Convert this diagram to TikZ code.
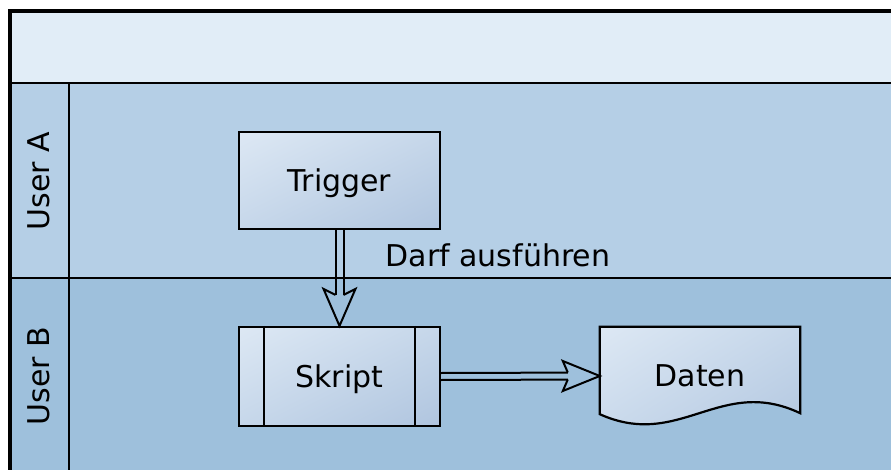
\documentclass[tikz,border=0pt]{standalone}
\usepackage{fontspec}
\setmainfont{DejaVu Sans}
\usetikzlibrary{shadings}
\definecolor{headfill}{RGB}{225,237,247}
\definecolor{lanea}{RGB}{181,207,230}
\definecolor{laneb}{RGB}{158,192,220}
\definecolor{boxlight}{RGB}{221,232,244}
\definecolor{boxmid}{RGB}{198,215,234}
\definecolor{boxdark}{RGB}{176,197,223}
\tikzset{
  lane/.style={line width=2pt, black},
  frame/.style={line width=3.5pt, black},
  boxfill/.style={upper left=boxlight, lower right=boxdark,
                  upper right=boxmid, lower left=boxmid},
  procbox/.style={boxfill, draw, line width=2.2pt, inner sep=0pt,
                  text height=22.8pt, text depth=1pt},
  hollow/.style={line width=2pt, line join=miter},
  lanelabel/.style={rotate=90}
}
\begin{document}
\begin{tikzpicture}[x=1pt, y=-1pt, font=\fontsize{30}{36}\selectfont]
\useasboundingbox (0,0) rectangle (891,470);

% pool with header and two lanes
\begin{scope}
  \clip (0,0) rectangle (891,470);
  \fill[white] (0,0) rectangle (891,470);
  \fill[headfill] (10,11) rectangle (900,83);
  \fill[lanea] (10,83) rectangle (900,278);
  \fill[laneb] (10,278) rectangle (900,480);
  \draw[lane] (10,83) -- (900,83);
  \draw[lane] (10,278) -- (900,278);
  \draw[lane] (69,83) -- (69,480);
  \draw[frame] (10,480) -- (10,11) -- (900,11);
\end{scope}

\node[lanelabel] (usera) at (39,181) {User A};
\node[lanelabel] (userb) at (39,376) {User B};

% process steps
\node[procbox, minimum width=201pt, minimum height=97pt] (trigger) at (339.5,180.5) {Trigger};
\node[procbox, minimum width=201pt, minimum height=99pt] (skript) at (339.5,376.5) {Skript};
\draw[line width=2.2pt] ([xshift=26pt]skript.north west) -- ([xshift=26pt]skript.south west);
\draw[line width=2.2pt] ([xshift=-26pt]skript.north east) -- ([xshift=-26pt]skript.south east);

% document shape with wavy bottom
\path (700,376) node[minimum width=200pt, minimum height=98pt, inner sep=0pt] (daten) {};
\shadedraw[boxfill, line width=2.2pt, line join=miter]
  (daten.north west) -- (daten.north east) -- ([yshift=12pt]daten.south east)
  .. controls ([xshift=-80pt,yshift=50pt]daten.south east)
  and ([xshift=80pt,yshift=-25pt]daten.south west)
  .. ([yshift=11pt]daten.south west) -- cycle;
\node (datentext) at (daten.center) {Daten};

% hollow arrow: Trigger -> Skript
\draw[hollow, shorten >=31pt] ([xshift=-4pt]trigger.south) -- ([xshift=-4pt]skript.north);
\draw[hollow, shorten >=31pt] ([xshift=4pt]trigger.south) -- ([xshift=4pt]skript.north);
\draw[hollow] ([xshift=-4pt,yshift=31pt]skript.north) -- ([xshift=-16pt,yshift=37pt]skript.north)
  -- (skript.north) -- ([xshift=16pt,yshift=37pt]skript.north) -- ([xshift=4pt,yshift=31pt]skript.north);
\node[anchor=west] (darf) at (382,255.5) {Darf ausführen};

% hollow arrow: Skript -> Daten
\draw[hollow, shorten >=32pt] ([yshift=3.5pt]skript.east) -- ([yshift=3.5pt]daten.west);
\draw[hollow, shorten >=32pt] ([yshift=-3.5pt]skript.east) -- ([yshift=-3.5pt]daten.west);
\draw[hollow] ([xshift=-32pt,yshift=3.5pt]daten.west) -- ([xshift=-37pt,yshift=15pt]daten.west)
  -- (daten.west) -- ([xshift=-37pt,yshift=-15pt]daten.west) -- ([xshift=-32pt,yshift=-3.5pt]daten.west);
\end{tikzpicture}
\end{document}
